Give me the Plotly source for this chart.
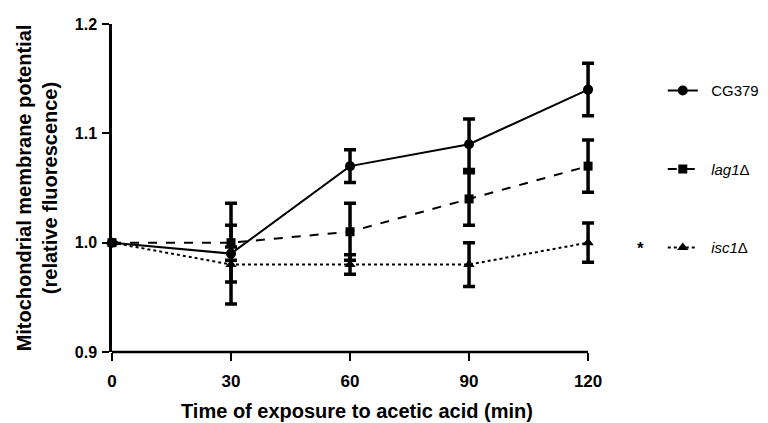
import plotly.graph_objects as go

time_min = [0, 30, 60, 90, 120]
cg379 = [1.00, 0.99, 1.07, 1.09, 1.14]
cg379_err = [0.0, 0.046, 0.015, 0.023, 0.024]
lag1 = [1.00, 1.00, 1.01, 1.04, 1.07]
lag1_err = [0.0, 0.016, 0.026, 0.024, 0.024]
isc1 = [1.00, 0.98, 0.98, 0.98, 1.00]
isc1_err = [0.0, 0.016, 0.009, 0.020, 0.018]

series_names = ["&nbsp;&nbsp;CG379", "&nbsp;&nbsp;<i>lag1</i>Δ", "&nbsp;&nbsp;<i>isc1</i>Δ"]
x_ticks = [0, 30, 60, 90, 120]
y_ticks = [0.9, 1.0, 1.1, 1.2]

styles = [("solid", "circle", 10), ("dash", "square", 9), ("dot", "triangle-up", 10)]
data = [(cg379, cg379_err), (lag1, lag1_err), (isc1, isc1_err)]

fig = go.Figure()
for i, (name, (vals, errs), (dash, sym, ms)) in enumerate(zip(series_names, data, styles)):
    fig.add_trace(go.Scatter(
        x=time_min, y=vals, name=name, mode="lines+markers",
        legendgroup=f"g{i}",
        line=dict(color="black", width=2, dash=dash),
        marker=dict(symbol=sym, size=ms, color="black"),
        error_y=dict(type="data", array=errs, visible=True, color="black", thickness=3.5, width=6),
        cliponaxis=False,
    ))

# x-axis line from first to last tick
fig.add_shape(type="line", xref="x", yref="paper", x0=x_ticks[0], x1=x_ticks[-1], y0=0, y1=0,
              line=dict(color="black", width=2.5))

fig.add_annotation(x=1.103, y=0.323, xref="paper", yref="paper", text="<b>*</b>",
                   showarrow=False, yshift=-14, font=dict(size=17, color="black", family="Arial"))

fig.add_annotation(x=0.506, y=-0.181, xref="paper", yref="paper", yanchor="middle",
                   text="Time of exposure to acetic acid (min)", showarrow=False,
                   font=dict(size=20, color="black", family="Arial", weight="bold"))

fig.update_layout(
    width=760, height=415,
    margin=dict(l=104, r=172, t=16, b=71, autoexpand=False),
    plot_bgcolor="white", paper_bgcolor="white",
    font=dict(family="Arial, Liberation Sans, sans-serif", color="black"),
    showlegend=True,
    legend=dict(x=1.138, y=0.847, xanchor="left", yanchor="top", tracegroupgap=56,
                font=dict(size=15, family="Arial"), bgcolor="rgba(0,0,0,0)"),
    xaxis=dict(range=[0, 122], tickvals=x_ticks, ticktext=[str(t) for t in x_ticks],
               showline=False, ticks="outside", automargin=False,
               ticklen=8, tickwidth=2, tickcolor="black", showgrid=False, zeroline=False,
               ticklabelstandoff=6,
               tickfont=dict(size=17, family="Arial", weight="bold")),
    yaxis=dict(range=[0.9, 1.2], tickvals=y_ticks, ticktext=["0.9", "1.0", "1.1", "1.2"],
               showline=True, linecolor="black", linewidth=2.5, ticks="outside",
               automargin=False,
               ticklen=7, tickwidth=2, tickcolor="black", showgrid=False, zeroline=False,
               ticklabelstandoff=2,
               tickfont=dict(size=16, family="Arial", weight="bold"),
               title=dict(text="Mitochondrial membrane potential<br>(relative fluorescence)",
                          standoff=12, font=dict(size=20, family="Arial", weight="bold"))),
)

fig.write_html("out.html")
